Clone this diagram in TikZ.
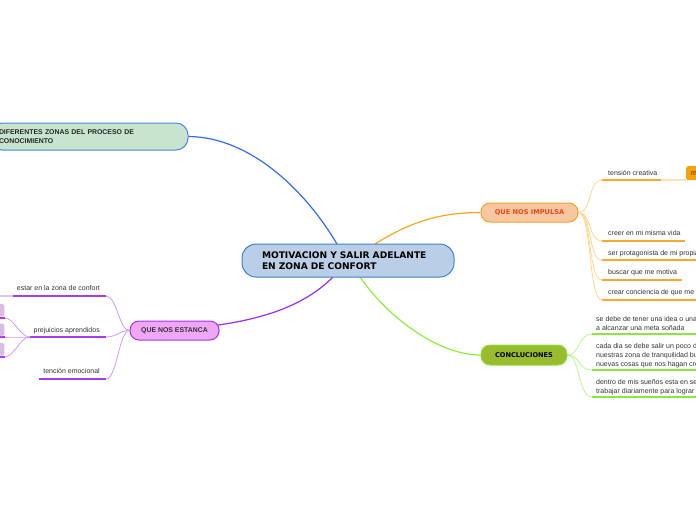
\documentclass[tikz,border=0pt]{standalone}
\usepackage{fontspec}
\setmainfont{Liberation Sans}
\newfontfamily\vfont{DejaVu Sans}
\usetikzlibrary{backgrounds}
\definecolor{cfill}{HTML}{BACEE7}
\definecolor{cdraw}{HTML}{3C84CC}
\definecolor{gfill}{HTML}{C6E4CE}
\definecolor{gdraw}{HTML}{4A86E8}
\definecolor{blueline}{HTML}{2F6BF5}
\definecolor{ifill}{HTML}{F7C8A0}
\definecolor{idraw}{HTML}{F5A12E}
\definecolor{itext}{HTML}{F0461A}
\definecolor{oline}{HTML}{F9A51E}
\definecolor{obranch}{HTML}{FFD58C}
\definecolor{ounder}{HTML}{F8A730}
\definecolor{olight}{HTML}{FDE3B8}
\definecolor{obox}{HTML}{F7A20C}
\definecolor{efill}{HTML}{EFA6F6}
\definecolor{edraw}{HTML}{A335E8}
\definecolor{pline}{HTML}{A12AF2}
\definecolor{pbranch}{HTML}{D597F7}
\definecolor{punder}{HTML}{A83BEB}
\definecolor{plight}{HTML}{E2C2F5}
\definecolor{pbox}{HTML}{D9BBE3}
\definecolor{kfill}{HTML}{9BBB2F}
\definecolor{kdraw}{HTML}{88E53A}
\definecolor{gline}{HTML}{8CF03A}
\definecolor{gbranch}{HTML}{BDF591}
\definecolor{gunder}{HTML}{8AE83C}
\definecolor{txt}{HTML}{333333}
\begin{document}
\begin{tikzpicture}[x=1pt,y=-1pt,
  topic/.style={inner sep=0pt, line width=1pt},
  small/.style={inner sep=0pt, font=\fontsize{7}{9}\selectfont, text=txt, align=left},
  conn/.style={line width=1.2pt},
  branch/.style={line width=0.8pt},
  under/.style={line width=2pt}]
\useasboundingbox (0,0) rectangle (696,520);
\clip (0,0) rectangle (696,520);

% main topics
\node[topic, draw=cdraw, fill=cfill, minimum width=212pt, minimum height=33pt, rounded corners=14pt,
  text width=172pt, align=left, font=\vfont\bfseries\fontsize{9.1}{11}\selectfont, text=black]
  (c) at (348,260.5) {MOTIVACION Y SALIR ADELANTE\\EN ZONA DE CONFORT};
\node[topic, draw=gdraw, fill=gfill, minimum width=198pt, minimum height=27pt, rounded corners=12pt,
  text width=180pt, align=left, font=\bfseries\fontsize{6.9}{9}\selectfont, text=black!85]
  (d) at (89,136.5) {DIFERENTES ZONAS DEL PROCESO DE\\CONOCIMIENTO};
\node[topic, draw=idraw, fill=ifill, minimum width=97pt, minimum height=19pt, rounded corners=9pt,
  font=\vfont\bfseries\fontsize{6.6}{8}\selectfont, text=itext]
  (i) at (529.5,212.5) {QUE NOS IMPULSA};
\node[topic, draw=edraw, fill=efill, minimum width=89pt, minimum height=19pt, rounded corners=9pt,
  font=\bfseries\fontsize{6.9}{8}\selectfont, text=black!80]
  (e) at (174.5,330.5) {QUE NOS ESTANCA};
\node[topic, draw=kdraw, fill=kfill, minimum width=86pt, minimum height=20pt, rounded corners=9pt,
  font=\vfont\bfseries\fontsize{6.6}{8}\selectfont, text=black]
  (k) at (524,355) {CONCLUCIONES};

% ---- QUE NOS IMPULSA branch labels
\node[small, anchor=base west] (t1) at (608,175) {tensión creativa};
\node[small, anchor=base west] (t2) at (608,235.7) {creer en mi misma vida};
\node[small, anchor=base west] (t3) at (608,255) {ser protagonista de mi propia};
\node[small, anchor=base west] (t4) at (608,274.5) {buscar que me motiva};
\node[small, anchor=base west] (t5) at (608,294.5) {crear conciencia de que me};
\node[inner sep=0pt, fill=obox, rounded corners=2pt, minimum width=20pt, minimum height=14pt,
  anchor=north west, font=\fontsize{7}{8}\selectfont, text=black!80, text width=16pt, align=left]
  (m) at (686,166) {\hspace*{3pt}m};

% ---- QUE NOS ESTANCA branch labels
\node[small, anchor=base east] (s1) at (100,290.5) {estar en la zona de confort};
\node[small, anchor=base east] (s2) at (100,332) {prejuicios aprendidos};
\node[small, anchor=base east] (s3) at (100,373.3) {tención emocional};
\node[inner sep=0pt, fill=pbox, rounded corners=1.5pt, minimum width=10pt, minimum height=12.5pt, anchor=north east] (b1) at (4.5,304) {};
\node[inner sep=0pt, fill=pbox, rounded corners=1.5pt, minimum width=10pt, minimum height=12.5pt, anchor=north east] (b2) at (4.5,323.3) {};
\node[inner sep=0pt, fill=pbox, rounded corners=1.5pt, minimum width=10pt, minimum height=12.5pt, anchor=north east] (b3) at (4.5,343) {};

% ---- CONCLUCIONES labels (base = last line)
\node[small, anchor=base west, font=\fontsize{7}{8.5}\selectfont] (k1) at (596,330.3) {se debe de tener una idea o una\\a alcanzar una meta soñada};
\node[small, anchor=base west, font=\fontsize{7}{8.8}\selectfont] (k2) at (596,366) {cada dia se debe salir un poco d\\nuestras zona de tranquilidad bu\\nuevas cosas que nos hagan cre};
\node[small, anchor=base west, font=\fontsize{7}{8.8}\selectfont] (k3) at (596,393.5) {dentro de mis sueños esta en se\\trabajar diariamente para lograr};

\begin{scope}[on background layer]
% main connectors
\coordinate (ctop1) at (337,244);
\coordinate (ctop2) at (375,244);
\coordinate (cbot1) at (333,277);
\coordinate (cbot2) at (360,277);
\draw[conn, blueline] (ctop1) .. controls (305,190) and (250,137) .. (d.east);
\draw[conn, oline] (ctop2) .. controls (410,222) and (440,212.5) .. (i.west);
\draw[conn, pline] (cbot1) .. controls (305,305) and (255,330.5) .. (e.west);
\draw[conn, gline] (cbot2) .. controls (390,320) and (440,355) .. (k.west);

% impulsa branches
\foreach \n/\y/\e in {1/180/661, 2/241/685, 3/260/700, 4/280/682, 5/300/700}{
  \coordinate (a\n) at (602,\y);
  \coordinate (a\n e) at (\e,\y);
  \draw[branch, obranch] (i.east) .. controls (592,212.5) and (588,\y) .. (a\n);
  \draw[under, ounder] (a\n) -- (a\n e);
}
\draw[under, olight] (a1e) -- (m.west |- a1e);

% estanca branches
\foreach \n/\y/\s in {1/296/13.3, 2/337/30, 3/379/39.3}{
  \coordinate (p\n) at (106,\y);
  \coordinate (p\n s) at (\s,\y);
  \draw[branch, pbranch] (e.west) .. controls (119,330.5) and (117,\y) .. (p\n);
  \draw[under, punder] (p\n) -- (p\n s);
}
\draw[under, plight] (p1s) -- (0,296);
\foreach \n/\y in {1/318, 2/337, 3/357}{
  \coordinate (q\n) at (4.5,\y);
  \draw[branch, pbranch] (p2s) .. controls (20,337) and (14,\y) .. (q\n);
  \draw[under, punder] (q\n) -- (-2,\y);
}

% conclusiones branches
\foreach \n/\y in {1/334, 2/370, 3/397}{
  \coordinate (g\n) at (592,\y);
  \draw[branch, gbranch] (k.east) .. controls (580,355) and (578,\y) .. (g\n);
  \draw[under, gunder] (g\n) -- (700,\y);
}
\end{scope}
\end{tikzpicture}
\end{document}
